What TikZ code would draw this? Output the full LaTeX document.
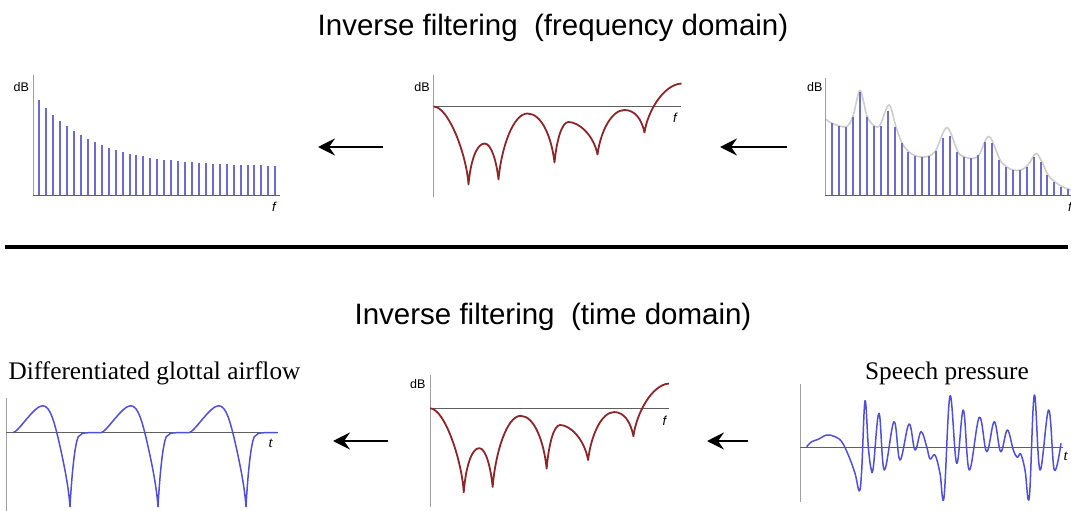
\documentclass[tikz,border=0pt]{standalone}
\usepackage{fontspec}
\setmainfont{Liberation Serif}
\setsansfont{Liberation Sans}
\usetikzlibrary{arrows.meta}
\definecolor{barblue}{RGB}{108,108,208}
\definecolor{wave}{RGB}{80,80,215}
\definecolor{filtred}{RGB}{140,38,42}
\definecolor{axisgray}{RGB}{160,160,160}
\definecolor{axisdark}{RGB}{95,95,95}
\definecolor{envgray}{RGB}{205,205,205}
\tikzset{
  vaxis/.style={draw=axisgray, line width=0.9pt},
  haxis/.style={draw=axisdark, line width=0.8pt},
  bar/.style={draw=barblue, line width=2pt},
  filt/.style={draw=filtred, line width=1.8pt, line join=round},
  wavel/.style={draw=wave, line width=1.5pt, line join=round},
  arr/.style={-{Stealth[length=17pt,width=17pt,inset=6pt]}, line width=2.8pt},
  titletext/.style={font=\sffamily\fontsize{29.5}{32}\selectfont, inner sep=0pt, anchor=base},
  dblab/.style={font=\sffamily\fontsize{12.5}{13}\selectfont, inner sep=0pt},
  flab/.style={font=\sffamily\itshape\fontsize{13}{13}\selectfont, inner sep=0pt},
  tlab/.style={font=\itshape\fontsize{15}{15}\selectfont, inner sep=0pt},
  captext/.style={font=\fontsize{25.3}{28}\selectfont, inner sep=0pt, anchor=base},
  filtcurve/.pic={
    \draw[filt] (0,0) .. controls (15,0) and (33,48) .. (35,78)
      .. controls (37,55) and (43,37) .. (51,37)
      .. controls (58,37) and (63,55) .. (65,73)
      .. controls (68,40) and (80,7) .. (94,7)
      .. controls (108,7) and (118,30) .. (121,56)
      .. controls (123,35) and (128,15.5) .. (135,15.5)
      .. controls (145,15.5) and (160,28) .. (164,48)
      .. controls (167,25) and (178,3.5) .. (191,3.5)
      .. controls (201,3.5) and (208,12) .. (211,26)
      .. controls (214,5) and (230,-22) .. (248,-23);
  },
  glotper/.pic={
    \draw[wavel] (0,0) .. controls (6,-2) and (21,-27) .. (29.4,-27)
      .. controls (37,-27) and (41,-10) .. (45,6)
      .. controls (49,24) and (55,50) .. (56.7,74)
      .. controls (58,50) and (61,12) .. (65,4)
      .. controls (67,1) and (70,0) .. (75,0) -- (88,0);
  }
}
\begin{document}
\begin{tikzpicture}[x=1pt,y=-1pt]
\useasboundingbox (0,0) rectangle (1071,511);

% titles
\node[titletext] (title1) at (553,36) {Inverse filtering\ \ (frequency domain)};
\node[titletext] (title2) at (553,324) {Inverse filtering\ \ (time domain)};

% separator
\coordinate (sepL) at (5,247);
\coordinate (sepR) at (1068,247);
\draw[line width=3.5pt] (sepL) -- (sepR);

% ---------- top-left: source spectrum
\foreach \k in {0,...,34}{
  \pgfmathsetmacro\xx{39.3+6.94*\k}
  \pgfmathsetmacro\yy{195.7-29-67*exp(-\k/8)}
  \draw[bar] (\xx,195.7) -- (\xx,\yy);
}
\draw[vaxis] (33.3,75) -- (33.3,196);
\draw[haxis] (33.3,195.7) -- (280,195.7);
\node[dblab] (db1) at (21.3,87.5) {dB};
\node[flab] (f1) at (274,206.7) {f};

% ---------- top-middle: inverse filter
\draw[vaxis] (433.5,75) -- (433.5,197);
\draw[haxis] (433.5,106.5) -- (681,106.5);
\pic at (433.5,106.5) {filtcurve};
\node[dblab] (db2) at (422,87) {dB};
\node[flab] (f2) at (675,117.3) {f};

% ---------- top-right: speech spectrum
\draw[envgray, line width=1.6pt] plot[smooth, tension=0.55] coordinates {
 (826,119.3) (832,123.3) (846,126.7) (853,116) (860,90.5) (867,116) (874,125.7)
 (880,125) (889,105) (896,127) (902,143) (909,152) (916,156) (923,157) (929,156) (936,150)
 (947,127.5) (958,152) (965,157) (972,158.5) (979,155) (989,136.5) (1000,160)
 (1007,167) (1013,170) (1021,170) (1028,165) (1036,153.5) (1042,162) (1048,175)
 (1055,182) (1063,187) (1071,190)};
\foreach \k/\yt in {0/123.3,1/125.7,2/126.7,3/117.3,4/91.7,5/117.3,6/125.7,7/125.7,
  8/111,9/126.7,10/143.3,11/152.3,12/156,13/156.7,14/156,15/151,16/138.3,17/136,
  18/152.3,19/156.7,20/158.3,21/155,22/141.7,23/143.3,24/160,25/166.7,26/170,
  27/170,28/166.7,29/156.7,30/161.7,31/175,32/181.7,33/186.7,34/189}{
  \pgfmathsetmacro\xx{832+6.95*\k}
  \draw[bar] (\xx,195.7) -- (\xx,\yt);
}
\draw[vaxis] (825,78) -- (825,196);
\draw[haxis] (825,195.7) -- (1071,195.7);
\node[dblab] (db3) at (814.7,87) {dB};
\node[flab] (f3) at (1070,207) {f};

% ---------- bottom-left: glottal flow derivative
\node[captext] (cap1) at (154.5,379.3) {Differentiated glottal airflow};
\draw[vaxis] (6,398) -- (6,511);
\draw[haxis] (6,432.7) -- (278,432.7);
\pic at (13.3,432.7) {glotper};
\pic at (101.3,432.7) {glotper};
\pic at (189.3,432.7) {glotper};
\node[tlab] (t1) at (270.7,443.3) {t};

% ---------- bottom-middle: inverse filter
\draw[vaxis] (430,375) -- (430,507);
\draw[haxis] (430,408.3) -- (669,408.3);
\pic[xscale=0.964,yscale=1.077] at (430,408.3) {filtcurve};
\node[dblab] (db4) at (417.7,384) {dB};
\node[flab] (f4) at (664.3,421) {f};

% ---------- bottom-right: speech pressure
\node[captext] (cap2) at (947,379.3) {Speech pressure};
\draw[vaxis] (800,384) -- (800,502);
\draw[haxis] (800,447.3) -- (1063,447.3);
\draw[wavel] plot[smooth, tension=0.62] coordinates {
 (806.7,446.7) (811.7,441.7) (818.3,439.3) (826.7,435) (835,436.7) (841.7,441.7)
 (848.3,455) (855,473.3) (859.3,491) (861.7,470) (865,400.7) (868.3,446.7) (871,468.3)
 (873.3,467.3) (879,413.3) (884.3,470) (894,421.7) (900,460) (909,424) (915,450)
 (921,431.7) (926.7,446.7) (930,459) (935,455) (940,473.3) (944,497.3) (950,396)
 (956.7,463.3) (963.3,410) (969.3,470) (979.3,417.3) (986.7,451.7) (994.3,421.7)
 (1000.7,451.7) (1007.3,430) (1013.3,450) (1017.3,457.3) (1020.7,454) (1025,470)
 (1029.3,497.3) (1034.3,395) (1040,470) (1048.7,410) (1054.3,470) (1061,443.3)};
\node[tlab] (t2) at (1065.7,456) {t};

% ---------- arrows
\coordinate (a1s) at (383,147); \coordinate (a1e) at (318,147);
\coordinate (a2s) at (787,147); \coordinate (a2e) at (720,147);
\coordinate (a3s) at (388,441); \coordinate (a3e) at (333,441);
\coordinate (a4s) at (748,441); \coordinate (a4e) at (707,441);
\draw[arr] (a1s) -- (a1e);
\draw[arr] (a2s) -- (a2e);
\draw[arr] (a3s) -- (a3e);
\draw[arr] (a4s) -- (a4e);
\end{tikzpicture}
\end{document}
